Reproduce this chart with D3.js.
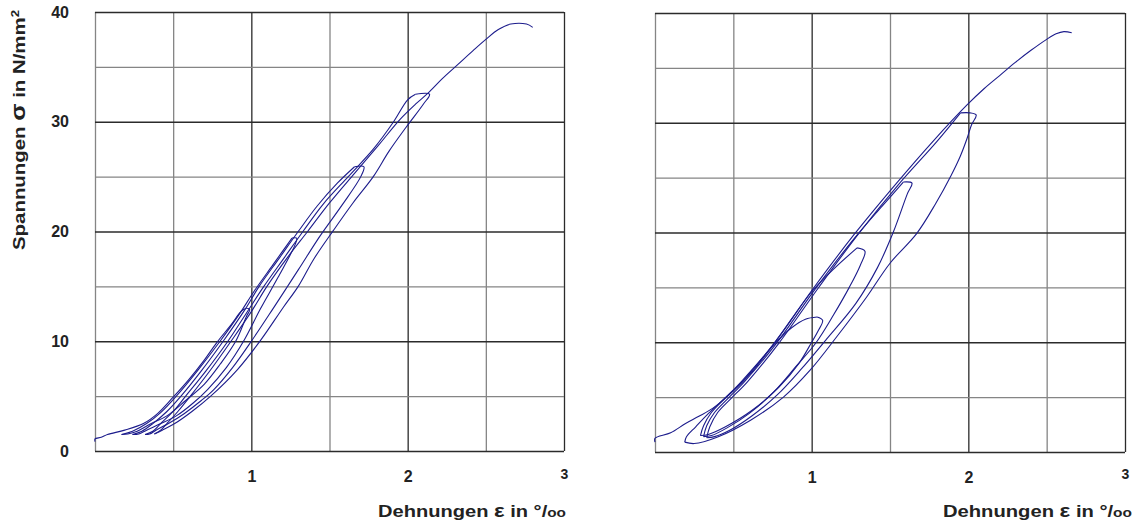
<!DOCTYPE html>
<html>
<head>
<meta charset="utf-8">
<script src="https://cdn.jsdelivr.net/npm/d3@7"></script>
<style>
  body { margin: 0; background: #fff; }
  text { font-family: "Liberation Sans", Arial, Helvetica, sans-serif; font-weight: bold; fill: #222; }
</style>
</head>
<body>
<svg id="chart" width="1139" height="527"></svg>
<script>
// Axis ticks and grid positions
const strainTicks = [1, 2, 3];
const stressTicks = [0, 10, 20, 30, 40];
const strainGrid = [0, 0.5, 1, 1.5, 2, 2.5, 3];
const stressGrid = [0, 5, 10, 15, 20, 25, 30, 35, 40];

// Specimen A: cyclic loading, points are [strain ‰, stress N/mm²]
const aLoad1 = [[0,0.85],[0,1.1],[0.04,1.25],[0.08,1.5],[0.19,1.9],[0.31,2.5],[0.40,3.4],[0.50,4.9],[0.60,6.5],[0.70,8.3],[0.78,9.9],[0.87,11.5],[0.94,12.8],[0.97,13.0]];
const aUnload1 = [[0.97,13.0],[0.99,12.9],[0.97,12.3],[0.90,10.0],[0.80,7.9],[0.70,6.1],[0.58,4.6],[0.46,3.2],[0.36,2.5],[0.27,1.8],[0.21,1.55],[0.17,1.5]];
const aLoad2 = [[0.17,1.5],[0.24,1.8],[0.33,2.5],[0.42,3.5],[0.52,5.0],[0.66,7.4],[0.80,10.0],[0.92,12.4],[1.02,14.6],[1.14,17.0],[1.26,19.4]];
const aUnload2 = [[1.26,19.4],[1.29,19.4],[1.28,18.8],[1.17,15.8],[1.06,13.0],[0.95,10.0],[0.84,7.6],[0.72,5.6],[0.63,4.4],[0.52,3.2],[0.42,2.5],[0.33,1.9],[0.28,1.55],[0.24,1.5]];
const aLoad3 = [[0.24,1.5],[0.30,1.8],[0.37,2.5],[0.46,3.6],[0.55,5.0],[0.68,7.3],[0.82,10.0],[0.96,12.9],[1.05,15.0],[1.18,17.6],[1.30,20.0],[1.42,22.3],[1.55,24.4],[1.66,25.9]];
const aUnload3 = [[1.66,25.9],[1.72,25.9],[1.70,25.0],[1.58,22.4],[1.44,19.6],[1.30,16.5],[1.14,13.0],[1.00,10.0],[0.88,7.6],[0.76,5.6],[0.68,4.6],[0.57,3.4],[0.47,2.5],[0.39,1.9],[0.35,1.55],[0.32,1.5]];
const aLoad4 = [[0.32,1.5],[0.37,1.8],[0.42,2.5],[0.50,3.6],[0.58,5.0],[0.71,7.3],[0.85,10.0],[0.97,12.6],[1.08,15.0],[1.21,17.6],[1.33,20.0],[1.46,22.5],[1.62,25.0],[1.78,27.5],[1.91,30.0],[2.00,32.0],[2.05,32.5]];
const aUnload4 = [[2.05,32.5],[2.14,32.5],[2.10,31.6],[1.99,29.5],[1.88,27.3],[1.78,25.0],[1.65,22.6],[1.525,20.1],[1.40,17.5],[1.30,15.0],[1.205,13.1],[1.06,10.1],[0.91,7.4],[0.74,5.0],[0.62,3.6],[0.51,2.5],[0.43,1.9],[0.38,1.55]];
const aLoad5 = [[0.38,1.55],[0.42,1.9],[0.46,2.5],[0.53,3.6],[0.61,5.0],[0.74,7.4],[0.87,10.0],[1.00,12.7],[1.10,15.0],[1.24,17.8],[1.36,20.0],[1.50,22.6],[1.66,25.3],[1.81,27.8],[1.95,30.2],[2.05,31.6],[2.13,32.6],[2.22,33.9],[2.32,35.2],[2.42,36.5],[2.50,37.5],[2.58,38.4],[2.66,38.9],[2.76,38.9],[2.80,38.6]];

// Specimen B
const bLoad1 = [[0,0.9],[0,1.25],[0.10,1.75],[0.195,2.6],[0.28,3.25],[0.37,4.0],[0.48,5.3],[0.62,7.3],[0.76,9.8],[0.87,11.3],[0.96,12.1],[1.035,12.3]];
const bUnload1 = [[1.035,12.3],[1.07,12.0],[1.04,11.0],[1.0,10.0],[0.92,8.1],[0.79,5.9],[0.62,3.8],[0.45,2.3],[0.34,1.6],[0.29,1.5]];
const bLoad2 = [[0.29,1.5],[0.31,2.4],[0.36,3.6],[0.44,4.8],[0.55,6.4],[0.75,9.7],[1.00,14.6],[1.15,16.8],[1.29,18.6]];
const bUnload2 = [[1.29,18.6],[1.34,18.3],[1.31,17.0],[1.24,15.0],[1.14,12.5],[1.03,10.0],[0.90,7.8],[0.76,5.5],[0.60,3.5],[0.46,2.2],[0.36,1.5],[0.31,1.4]];
const bLoad3 = [[0.31,1.4],[0.33,2.4],[0.38,3.6],[0.46,4.8],[0.57,6.4],[0.77,9.8],[1.02,14.8],[1.28,19.6],[1.45,22.4],[1.585,24.6]];
const bUnload3 = [[1.585,24.6],[1.64,24.5],[1.61,23.5],[1.52,20.0],[1.42,16.8],[1.28,13.5],[1.09,10.2],[0.93,7.5],[0.78,5.2],[0.62,3.3],[0.48,2.0],[0.38,1.4],[0.33,1.3]];
const bLoad4 = [[0.33,1.3],[0.35,2.3],[0.40,3.6],[0.48,4.8],[0.59,6.4],[0.79,9.9],[1.04,14.9],[1.30,19.9],[1.55,24.3],[1.80,28.3],[1.95,30.9]];
const bUnload4 = [[1.95,30.9],[2.01,30.9],[2.05,30.7],[2.02,29.8],[1.99,28.5],[1.95,27.0],[1.89,25.2],[1.79,22.6],[1.67,19.9],[1.50,17.2],[1.35,14.1],[1.16,10.5],[0.99,7.45],[0.82,5.0],[0.61,2.9],[0.40,1.37],[0.25,0.77],[0.19,0.9]];
const bLoad5 = [[0.19,0.9],[0.20,1.37],[0.26,2.3],[0.34,3.5],[0.43,4.7],[0.55,6.3],[0.76,9.9],[1.01,14.9],[1.27,19.8],[1.53,24.3],[1.78,28.4],[1.99,31.6],[2.10,33.1],[2.20,34.3],[2.30,35.5],[2.40,36.6],[2.50,37.6],[2.56,38.1],[2.61,38.3],[2.66,38.2]];

const panels = [
  { x0: 95, x1: 564, yBottom: 451, yTop: 12, showStress: true,
    branches: [aLoad1, aUnload1, aLoad2, aUnload2, aLoad3, aUnload3, aLoad4, aUnload4, aLoad5],
    titleStart: 378, titleEnd: 566, labelShift: [0, 0, -2] },
  { x0: 655, x1: 1125, yBottom: 452, yTop: 13, showStress: false,
    branches: [bLoad1, bUnload1, bLoad2, bUnload2, bLoad3, bUnload3, bLoad4, bUnload4, bLoad5],
    titleStart: 943, titleEnd: 1132, labelShift: [0, 0, -3] }
];

const svg = d3.select("#chart");
svg.append("rect").attr("width", 1139).attr("height", 527).attr("fill", "#fff");

const majorColor = "#2b2b2b", minorColor = "#858585", curveColor = "#1c1c8c";

panels.forEach(p => {
  const x = d3.scaleLinear().domain([0, 3]).range([p.x0, p.x1]);
  const y = d3.scaleLinear().domain([0, 40]).range([p.yBottom, p.yTop]);
  const g = svg.append("g");

  // grid: integer strains and multiples of 10 are drawn darker
  const gx = g.append("g").attr("transform", `translate(0,${p.yBottom})`)
    .call(d3.axisBottom(x).tickValues(strainGrid).tickSize(-(p.yBottom - p.yTop)).tickFormat(""));
  gx.select(".domain").remove();
  gx.selectAll(".tick line")
    .attr("stroke", d => (Number.isInteger(d) && d > 0) ? majorColor : minorColor)
    .attr("stroke-width", 1.3);

  const gy = g.append("g").attr("transform", `translate(${p.x0},0)`)
    .call(d3.axisLeft(y).tickValues(stressGrid).tickSize(-(p.x1 - p.x0)).tickFormat(""));
  gy.select(".domain").remove();
  gy.selectAll(".tick line")
    .attr("stroke", d => d % 10 === 0 ? majorColor : minorColor)
    .attr("stroke-width", 1.3);

  // strain tick labels
  const lx = g.append("g").attr("transform", `translate(0,${p.yBottom})`)
    .call(d3.axisBottom(x).tickValues(strainTicks).tickSize(0).tickPadding(20).tickFormat(d3.format("d")));
  lx.select(".domain").remove();
  lx.selectAll("text")
    .attr("font-size", (d, i) => i === strainTicks.length - 1 ? 14 : 16)
    .attr("font-family", null)
    .attr("fill", "#222")
    .attr("transform", (d, i) => `translate(0,${p.labelShift[i]})`);

  // stress tick labels on the left panel only
  if (p.showStress) {
    const ly = g.append("g").attr("transform", `translate(${p.x0},0)`)
      .call(d3.axisLeft(y).tickValues(stressTicks).tickSize(0).tickPadding(26).tickFormat(d3.format("d")));
    ly.select(".domain").remove();
    ly.selectAll("text").attr("font-size", 16).attr("font-family", null).attr("fill", "#222");
  }

  // strain axis title
  const t = g.append("text")
    .attr("x", p.titleStart).attr("y", 516.5)
    .attr("font-size", 17)
    .attr("textLength", p.titleEnd - p.titleStart)
    .attr("lengthAdjust", "spacingAndGlyphs");
  t.append("tspan").text("Dehnungen ");
  t.append("tspan").attr("font-size", 19).text("ε");
  t.append("tspan").text(" in °/");
  t.append("tspan").attr("font-size", 13).text("oo");

  // hysteresis curves
  const line = d3.line()
    .x(d => x(d[0])).y(d => y(d[1]))
    .curve(d3.curveCatmullRom.alpha(0.5));
  g.append("g").selectAll("path").data(p.branches).join("path")
    .attr("d", line)
    .attr("fill", "none")
    .attr("stroke", curveColor)
    .attr("stroke-width", 1.1)
    .attr("stroke-linejoin", "round");
});

// stress axis title
const yt = svg.append("text")
  .attr("transform", "translate(25,250) rotate(-90)")
  .attr("font-size", 17)
  .attr("textLength", 240)
  .attr("lengthAdjust", "spacingAndGlyphs");
yt.append("tspan").text("Spannungen ");
yt.append("tspan").attr("font-size", 21).text("σ");
yt.append("tspan").text(" in N/mm");
yt.append("tspan").attr("font-size", 11).attr("dy", -6).text("2");
</script>
</body>
</html>
